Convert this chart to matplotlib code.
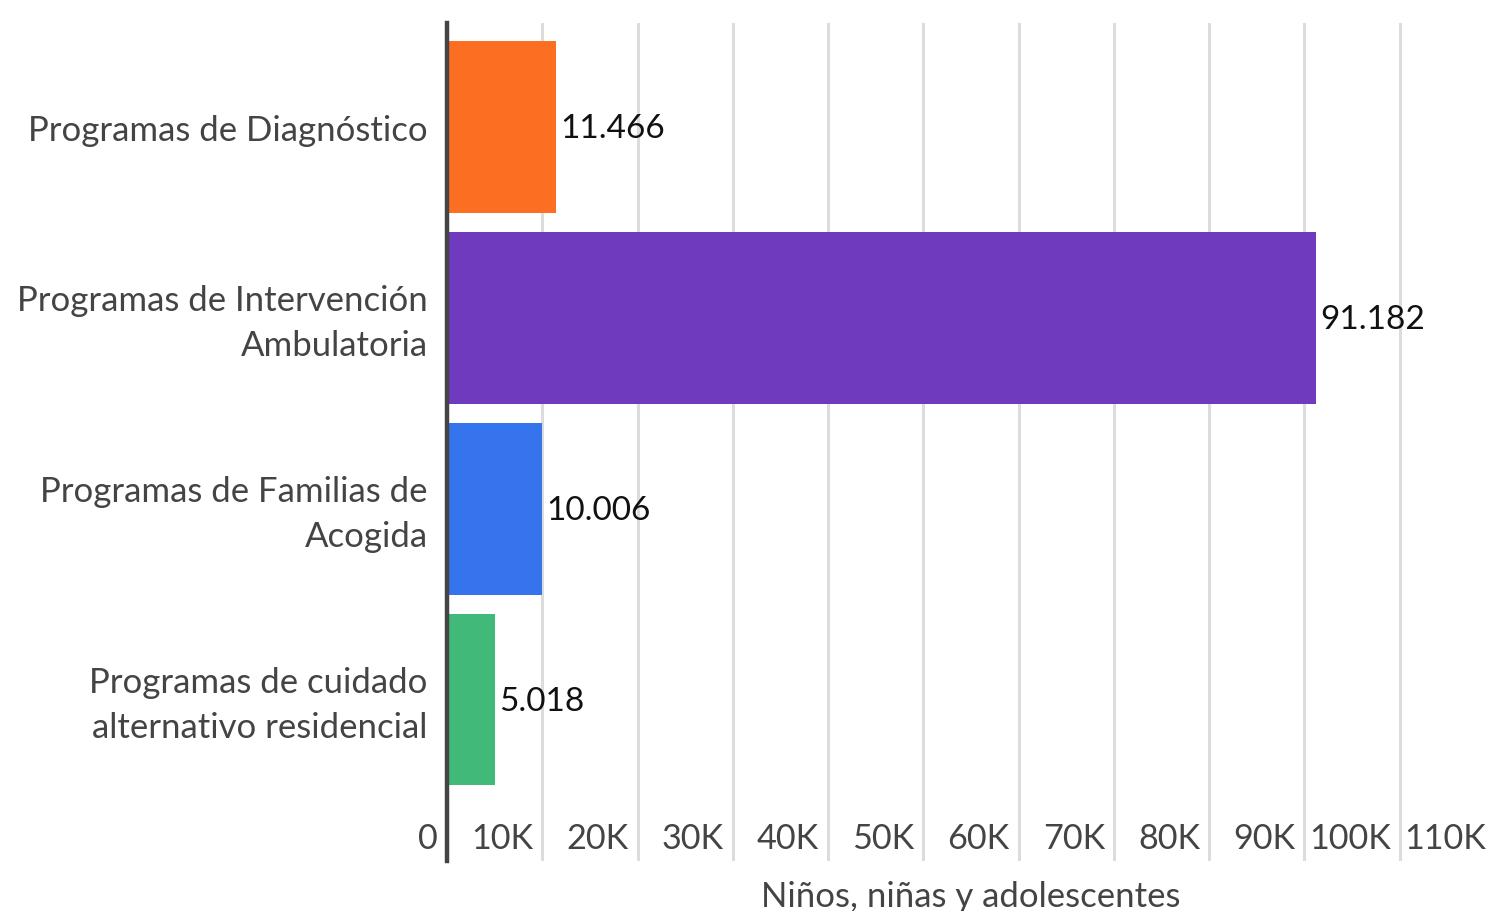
import matplotlib.pyplot as plt
import matplotlib.transforms as mtransforms
from matplotlib.ticker import FuncFormatter

# Data
categories = [
    'Programas de Diagnóstico',
    'Programas de Intervención\nAmbulatoria',
    'Programas de Familias de\nAcogida',
    'Programas de cuidado\nalternativo residencial',
]
values = [11466, 91182, 10006, 5018]
value_labels = ['11.466', '91.182', '10.006', '5.018']
colors = ['#FC6F22', '#6F3ABD', '#3674EE', '#41B979']
x_ticks = list(range(0, 110001, 10000))

plt.rcParams['font.family'] = ['Lato', 'DejaVu Sans']

fig = plt.figure(figsize=(14.89, 9.12), dpi=100)
ax = fig.add_axes([447 / 1489, 1 - 862 / 912, 1048 / 1489, 838 / 912])

y = list(range(len(categories)))
ax.barh(y, values, height=0.9, color=colors, zorder=3)

for yi, v, lab in zip(y, values, value_labels):
    ax.annotate(lab, (v, yi), xytext=(3, -1), textcoords='offset points',
                va='center', ha='left', fontsize=24, color='#111111', zorder=4)

ax.set_xlim(0, 110000)
ax.set_ylim(3.846, -0.545)

ax.set_yticks(y)
ax.set_yticklabels(categories, fontsize=25, color='#444444')
ax.tick_params(axis='y', length=0, pad=14)
lift = mtransforms.ScaledTranslation(0, 5 / 100, fig.dpi_scale_trans)
for lab in ax.get_yticklabels():
    lab.set_multialignment('right')
    lab.set_linespacing(1.5)
    if '\n' in lab.get_text():
        lab.set_transform(lab.get_transform() + lift)

ax.set_xticks(x_ticks)
ax.xaxis.set_major_formatter(FuncFormatter(lambda v, p: '0' if v == 0 else f'{int(v / 1000)}K'))
ax.tick_params(axis='x', length=0, pad=-28, labelsize=24.6, labelcolor='#444444')
shift = mtransforms.ScaledTranslation(-9 / 100, 0, fig.dpi_scale_trans)
for lab in ax.get_xticklabels():
    lab.set_horizontalalignment('right')
    lab.set_transform(lab.get_transform() + shift)

ax.grid(axis='x', color='#dcdcdc', linewidth=2.2, zorder=0)
for s in ['top', 'right', 'bottom']:
    ax.spines[s].set_visible(False)
ax.spines['left'].set_color('#444444')
ax.spines['left'].set_linewidth(3.2)
ax.spines['left'].set_zorder(5)

ax.set_xlabel('Niños, niñas y adolescentes', fontsize=25, color='#444444', labelpad=14)

fig.savefig('out.png', dpi=100)
